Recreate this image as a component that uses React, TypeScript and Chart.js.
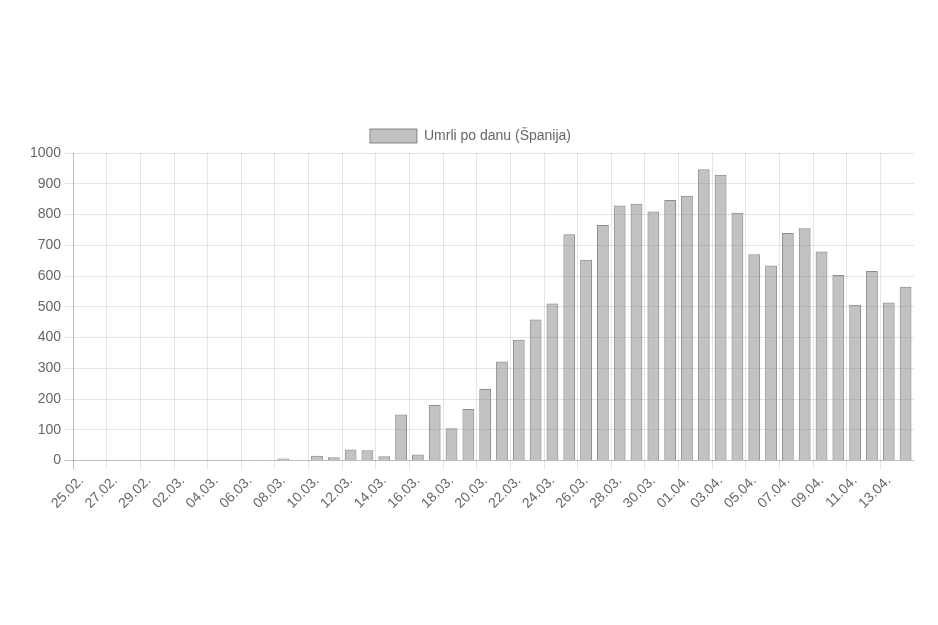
import React, { useEffect, useRef } from "react";
import { Chart, registerables } from "chart.js";

Chart.register(...registerables);

const dateLabels: string[] = [
  "25.02.", "26.02.", "27.02.", "28.02.", "29.02.",
  "01.03.", "02.03.", "03.03.", "04.03.", "05.03.", "06.03.", "07.03.", "08.03.", "09.03.", "10.03.",
  "11.03.", "12.03.", "13.03.", "14.03.", "15.03.", "16.03.", "17.03.", "18.03.", "19.03.", "20.03.",
  "21.03.", "22.03.", "23.03.", "24.03.", "25.03.", "26.03.", "27.03.", "28.03.", "29.03.", "30.03.",
  "31.03.", "01.04.", "02.04.", "03.04.", "04.04.", "05.04.", "06.04.", "07.04.", "08.04.", "09.04.",
  "10.04.", "11.04.", "12.04.", "13.04.", "14.04.",
];

const deathsPerDay: number[] = [
  0, 0, 0, 0, 0,
  0, 0, 0, 1, 1, 1, 1, 7, 0, 16,
  11, 36, 34, 14, 150, 20, 181, 105, 168, 233,
  322, 393, 459, 511, 736, 653, 766, 829, 835, 810,
  847, 861, 947, 929, 806, 671, 634, 740, 755, 680,
  603, 507, 616, 514, 565,
];

const seriesLabel = "Umrli po danu (Španija)";
const yTicksMax = 1000;
const yTickStep = 100;

export default function App() {
  const canvasRef = useRef<HTMLCanvasElement | null>(null);

  useEffect(() => {
    if (!canvasRef.current) return;
    Chart.defaults.font.family = "'Liberation Sans', Arial, Helvetica, sans-serif";
    Chart.defaults.font.size = 14;
    Chart.defaults.color = "#666";
    const chart = new Chart(canvasRef.current, {
      type: "bar",
      data: {
        labels: dateLabels,
        datasets: [
          {
            label: seriesLabel,
            data: deathsPerDay,
            backgroundColor: "rgba(128,128,128,0.48)",
            borderColor: "rgba(120,120,120,0.85)",
            borderWidth: 1,
            barPercentage: 0.78,
            categoryPercentage: 0.9,
          },
        ],
      },
      options: {
        animation: false,
        responsive: true,
        maintainAspectRatio: false,
        layout: { padding: { left: 19, right: 16, top: 0, bottom: 0 } },
        plugins: {
          legend: {
            display: true,
            labels: { boxWidth: 47, boxHeight: 14, padding: 10, color: "#666", font: { size: 14 } },
          },
          tooltip: { enabled: false },
        },
        scales: {
          x: {
            offset: true,
            grid: {
              offset: true,
              tickLength: 9,
              color: (ctx: any) =>
                ctx.index === 0
                  ? "rgba(0,0,0,0.25)"
                  : ctx.index % 2 === 0 && ctx.index < dateLabels.length
                  ? "rgba(0,0,0,0.1)"
                  : "rgba(0,0,0,0)",
            },
            border: { display: false },
            ticks: {
              autoSkip: false,
              maxRotation: 45,
              minRotation: 45,
              color: "#666",
              font: { size: 14 },
              callback: (_v: any, i: number) => (i % 2 === 0 ? dateLabels[i] : ""),
            },
          },
          y: {
            min: 0,
            max: yTicksMax,
            grid: {
              tickLength: 9,
              color: (ctx: any) =>
                ctx.tick && ctx.tick.value === 0 ? "rgba(0,0,0,0.25)" : "rgba(0,0,0,0.1)",
            },
            border: { display: false },
            ticks: {
              stepSize: yTickStep,
              color: "#666",
              font: { size: 14 },
              callback: (v: any) => String(v),
            },
          },
        },
      },
    });
    return () => chart.destroy();
  }, []);

  return (
    <div style={{ paddingTop: 111 }}>
      <div style={{ position: "relative", width: 922, height: 396 }}>
        <canvas ref={canvasRef} />
      </div>
    </div>
  );
}
